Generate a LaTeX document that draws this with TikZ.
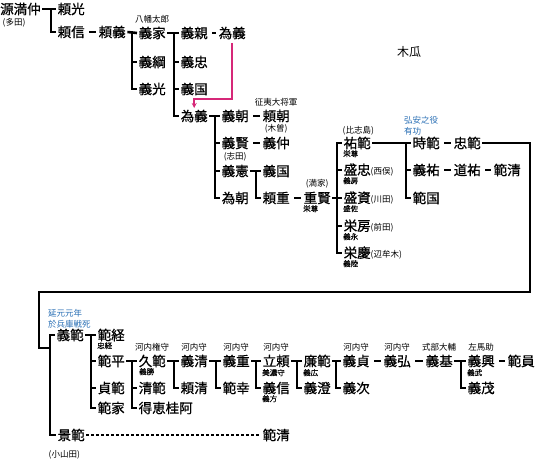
\documentclass[tikz,border=0pt]{standalone}
\usepackage{fontspec}
\setmainfont{Noto Sans CJK JP}
\newfontfamily\namefont{Noto Sans CJK JP}[FakeBold=0.8]
\newfontfamily\subfont{Noto Sans CJK JP}[FakeBold=0.3]
\usetikzlibrary{positioning, arrows.meta}
\definecolor{deedblue}{RGB}{40,110,180}
\definecolor{adoptpink}{RGB}{214,40,120}
\newcommand{\notesize}{\fontsize{8.5}{9}\selectfont}

\begin{document}
\begin{tikzpicture}[x=1pt, y=-1pt,
    person/.style ={anchor=west, inner sep=1.5pt, font=\namefont\fontsize{13.5}{13.5}\selectfont},
    note/.style   ={inner sep=0.5pt, font=\normalfont\notesize},
    sub/.style    ={anchor=north west, inner sep=0pt, font=\subfont\fontsize{7.5}{8}\selectfont},
    deed/.style   ={align=left, inner sep=0pt, text=deedblue,
                    font=\fontsize{8.5}{11}\selectfont},
    bracket/.style={line width=2.6pt},
    link/.style   ={line width=2.8pt, shorten <=3pt, shorten >=1.5pt},
    lineage/.style={line width=1.4pt, dash pattern=on 3pt off 2pt},
    adopt/.style  ={draw=adoptpink, line width=1.5pt,
                    -{Stealth[length=5pt,width=5pt,fill=adoptpink]}}
]
\useasboundingbox (0,0) rectangle (539,462);

% ============================================================
% 源満仲 - 為義
% ============================================================

\node[person] (mitsunaka)  at (-1.5, 9) {源満仲};
\node[note, anchor=north west] (tada) at (2, 17.5) {(多田)};
\node[person] (yorimitsu)  at (56, 9)   {頼光};
\node[person] (yorinobu)   at (56, 32)  {頼信};
\node[person] (yoriyoshi)  at (97, 32)  {頼義};

\node[person] (yoshiie)    at (137, 33) {義家};
\node[note, above=1pt of yoshiie] (hachiman) {八幡太郎};
\node[person] (yoshitsuna) at (137, 62) {義綱};
\node[person] (yoshimitsu) at (137, 89) {義光};

\node[person] (yoshichika) at (179, 33)  {義親};
\node[person] (tameyoshiA) at (217, 33)  {為義};
\node[person] (yoshitada)  at (179, 62)  {義忠};
\node[person] (yoshikuniA) at (179, 89)  {義国};
\node[person] (tameyoshi)  at (179, 116) {為義};

% -- 為義の子 --
\node[person] (yoshitomo)  at (220, 116) {義朝};
\node[person] (yoritomo)   at (261, 116) {頼朝};
\node[note, above=1pt of yoritomo] (seii) {征夷大将軍};
\node[person] (yoshikata)  at (220, 143) {義賢};
\node[person] (yoshinaka)  at (261, 143) {義仲};
\node[note, above=1pt of yoshinaka] (kiso) {(木曽)};
\node[person] (yoshinori)  at (220, 171) {義憲};
\node[note, above=1pt of yoshinori] (shida) {(志田)};
\node[person] (tametomo)   at (220, 198) {為朝};
\node[person] (yoshikuniB) at (261, 171) {義国};
\node[person] (yorishige)  at (261, 198) {頼重};
\node[person] (shigekata)  at (302, 198) {重賢};
\node[note, above=1pt of shigekata] (mitsuie) {(満家)};
\node[sub] (eisonA) at (303, 205) {栄尊};

% -- 重賢の子 --
\node[person] (sukenori)  at (342, 143) {祐範};
\node[note, anchor=south west] (hishijima) at (342, 136) {(比志島)};
\node[sub] (eisonB)       at (343, 150) {栄尊};
\node[person] (moritada)  at (342, 170) {盛忠{\normalfont\notesize(西俣)}};
\node[sub] (yoshifusa)    at (343, 177) {義房};
\node[person] (morisuke)  at (342, 198) {盛資{\normalfont\notesize(川田)}};
\node[sub] (morisa)       at (343, 205) {盛佐};
\node[person] (sakafusa)  at (342, 226) {栄房{\normalfont\notesize(前田)}};
\node[sub] (yoshinaga)    at (343, 233) {義永};
\node[person] (sakayoshi) at (342, 253) {栄慶{\normalfont\notesize(辺牟木)}};
\node[sub] (yoshimutsu)   at (343, 260) {義陸};

\node[person] (tokinori)  at (411, 143) {時範};
\node[person] (tadanori)  at (452, 143) {忠範};
\node[person] (yoshisuke) at (411, 170) {義祐};
\node[person] (michisuke) at (452, 170) {道祐};
\node[person] (norikiyoA) at (492, 170) {範清};
\node[person] (norikuni)  at (411, 198) {範国};
\node[deed, anchor=south west] (kouan) at (404, 135) {弘安之役\\有功};

\node[note, font=\fontsize{12}{12}\selectfont] (mokko) at (409, 52) {木瓜};

% ============================================================
% 義範 - 範員
% ============================================================

\node[person] (yoshinoriB) at (55, 335) {義範};
\node[deed, anchor=south west] (engen) at (48, 328) {延元元年\\於兵庫戦死};
\node[person] (noritsune)  at (96, 335) {範経};
\node[sub] (tadatsune)     at (97, 342) {忠経};
\node[person] (norihira)   at (96, 361) {範平};
\node[person] (sadanori)   at (96, 388) {貞範};
\node[person] (norie)      at (96, 408) {範家};

\node[person] (hisanori)   at (137, 361) {久範};
\node[note, above=1pt of hisanori] (kawachiA) {河内権守};
\node[sub] (yoshikatsu)    at (139, 368) {義勝};
\node[person] (kiyonori)   at (137, 388) {清範};
\node[person] (tokukei)    at (137, 408) {得恵桂阿};

\node[person] (yoshikiyo)  at (179, 361) {義清};
\node[note, above=1pt of yoshikiyo] (kawachiB) {河内守};
\node[person] (yorikiyo)   at (179, 388) {頼清};
\node[person] (yoshishigeA) at (221, 361) {義重};
\node[note, above=1pt of yoshishigeA] (kawachiC) {河内守};
\node[person] (noriyuki)   at (221, 388) {範幸};
\node[person] (tatsuyori)  at (261, 361) {立頼};
\node[note, above=1pt of tatsuyori] (kawachiD) {河内守};
\node[sub] (mino)          at (262, 369) {美濃守};
\node[person] (yoshinobu)  at (261, 388) {義信};
\node[sub] (yoshikataB)    at (262, 395) {義方};
\node[person] (kadonori)   at (302, 361) {廉範};
\node[sub] (yoshihiroB)    at (303, 369) {義広};
\node[person] (yoshizumi)  at (302, 388) {義澄};
\node[person] (yoshisada)  at (341, 361) {義貞};
\node[note, above=1pt of yoshisada] (kawachiE) {河内守};
\node[person] (yoshitsugu) at (341, 388) {義次};
\node[person] (yoshihiro)  at (382, 361) {義弘};
\node[note, above=1pt of yoshihiro] (kawachiF) {河内守};
\node[person] (yoshimoto)  at (424, 361) {義基};
\node[note, above=1pt of yoshimoto] (shikibu) {式部大輔};
\node[person] (yoshioki)   at (466, 361) {義興};
\node[note, above=1pt of yoshioki] (samanosuke) {左馬助};
\node[sub] (yoshitake)     at (467, 369) {義武};
\node[person] (yoshishigeB) at (466, 388) {義茂};
\node[person] (norikazu)   at (506, 361) {範員};

\node[person] (kagenori)   at (56, 435)  {景範};
\node[note, anchor=north west] (oyamada) at (48, 450) {(小山田)};
\node[person] (norikiyoB)  at (261, 435) {範清};

\coordinate (cornerR) at (530, 292);
\coordinate (cornerL) at (39, 292);
\coordinate (joinK)   at (50, 348);

% ============================================================
% 系線
% ============================================================

% 源満仲 -> 頼光, 頼信
\draw[bracket] (mitsunaka.east) -- (yorimitsu.west);
\draw[bracket] ([xshift=-5pt]yorimitsu.west) |- (yorinobu.west);
\draw[link]    (yorinobu.east) -- (yoriyoshi.west);

% 頼義 -> 義家, 義綱, 義光
\draw[bracket] (yoriyoshi.east) -- (yoshiie.west);
\draw[bracket] ([xshift=-5pt]yoshiie.west) |- (yoshimitsu.west);
\draw[bracket] ([xshift=-5pt]yoshitsuna.west) -- (yoshitsuna.west);

% 義家 -> 義親 ... 為義
\draw[bracket] (yoshiie.east) -- (yoshichika.west);
\draw[bracket] ([xshift=-5pt]yoshichika.west) |- (tameyoshi.west);
\draw[bracket] ([xshift=-5pt]yoshitada.west) -- (yoshitada.west);
\draw[bracket] ([xshift=-5pt]yoshikuniA.west) -- (yoshikuniA.west);
\draw[link]    (yoshichika.east) -- (tameyoshiA.west);
\draw[adopt]   ([yshift=-2pt]tameyoshiA.south) |- ([yshift=9pt]tameyoshi.north) -- (tameyoshi.north);

% 為義 -> 義朝 ... 為朝
\draw[bracket] (tameyoshi.east) -- (yoshitomo.west);
\draw[bracket] ([xshift=-5pt]yoshitomo.west) |- (tametomo.west);
\draw[bracket] ([xshift=-5pt]yoshikata.west) -- (yoshikata.west);
\draw[bracket] ([xshift=-5pt]yoshinori.west) -- (yoshinori.west);
\draw[link]    (yoshitomo.east) -- (yoritomo.west);
\draw[link]    (yoshikata.east) -- (yoshinaka.west);

% 義憲 -> 義国, 頼重 -> 重賢
\draw[bracket] (yoshinori.east) -- (yoshikuniB.west);
\draw[bracket] ([xshift=-5pt]yoshikuniB.west) |- (yorishige.west);
\draw[link]    (yorishige.east) -- (shigekata.west);

% 重賢 -> 祐範 ... 栄慶
\draw[bracket] (shigekata.east) -- (morisuke.west);
\draw[bracket] (sukenori.west) -| ([xshift=-5pt]sakayoshi.west) -- (sakayoshi.west);
\draw[bracket] ([xshift=-5pt]moritada.west) -- (moritada.west);
\draw[bracket] ([xshift=-5pt]sakafusa.west) -- (sakafusa.west);

% 祐範 -> 時範, 義祐, 範国
\draw[bracket] (sukenori.east) -- (tokinori.west);
\draw[bracket] ([xshift=-5pt]tokinori.west) |- (norikuni.west);
\draw[bracket] ([xshift=-5pt]yoshisuke.west) -- (yoshisuke.west);
\draw[link]    (tokinori.east) -- (tadanori.west);
\draw[link]    (yoshisuke.east) -- (michisuke.west);
\draw[link]    (michisuke.east) -- (norikiyoA.west);

% 忠範 -> 義範
\draw[bracket] (tadanori.east) -| (cornerR) -- (cornerL) |- (joinK);
\draw[bracket] (yoshinoriB.west) -| ([xshift=-6pt]kagenori.west) -- (kagenori.west);
\draw[lineage] (kagenori.east) -- (norikiyoB.west);

% 義範 -> 範経 ... 範家
\draw[bracket] (yoshinoriB.east) -- (noritsune.west);
\draw[bracket] ([xshift=-5pt]noritsune.west) |- (norie.west);
\draw[bracket] ([xshift=-5pt]norihira.west) -- (norihira.west);
\draw[bracket] ([xshift=-5pt]sadanori.west) -- (sadanori.west);

% 範平 -> 久範 ... 範員
\draw[bracket] (norihira.east) -- (hisanori.west);
\draw[bracket] ([xshift=-5pt]hisanori.west) |- (tokukei.west);
\draw[bracket] ([xshift=-5pt]kiyonori.west) -- (kiyonori.west);
\draw[bracket] (hisanori.east) -- (yoshikiyo.west);
\draw[bracket] ([xshift=-5pt]yoshikiyo.west) |- (yorikiyo.west);
\draw[bracket] (yoshikiyo.east) -- (yoshishigeA.west);
\draw[bracket] ([xshift=-5pt]yoshishigeA.west) |- (noriyuki.west);
\draw[bracket] (yoshishigeA.east) -- (tatsuyori.west);
\draw[bracket] ([xshift=-5pt]tatsuyori.west) |- (yoshinobu.west);
\draw[bracket] (tatsuyori.east) -- (kadonori.west);
\draw[bracket] ([xshift=-5pt]kadonori.west) |- (yoshizumi.west);
\draw[bracket] (kadonori.east) -- (yoshisada.west);
\draw[bracket] ([xshift=-5pt]yoshisada.west) |- (yoshitsugu.west);
\draw[link]    (yoshisada.east) -- (yoshihiro.west);
\draw[link]    (yoshihiro.east) -- (yoshimoto.west);
\draw[bracket] (yoshimoto.east) -- (yoshioki.west);
\draw[bracket] ([xshift=-5pt]yoshioki.west) |- (yoshishigeB.west);
\draw[link]    (yoshioki.east) -- (norikazu.west);

\end{tikzpicture}
\end{document}
